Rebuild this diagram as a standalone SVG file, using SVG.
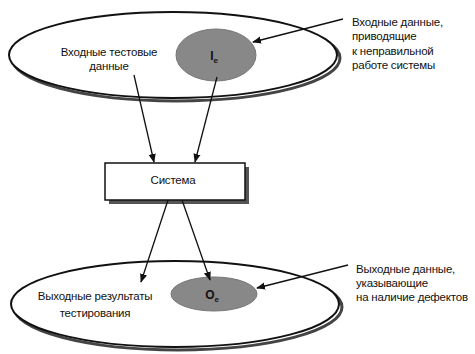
<svg xmlns="http://www.w3.org/2000/svg" width="475" height="354" viewBox="0 0 475 354">
<style>
text{font-family:"Liberation Sans",Arial,sans-serif;font-size:11.5px;letter-spacing:-0.2px;fill:#111}
.c{text-anchor:middle}
.set{fill:#fff;stroke:#111;stroke-width:2}
.shadow{fill:none;stroke:#444;stroke-width:3}
.blob{fill:#888;stroke:#777;stroke-width:1}
.ln{stroke:#111;stroke-width:1.3;fill:none;marker-end:url(#ah)}
.sym{font-weight:bold;font-size:12px}
</style>
<defs>
<marker id="ah" viewBox="0 0 10 10" refX="9" refY="5" markerWidth="9" markerHeight="9" markerUnits="userSpaceOnUse" orient="auto">
<path d="M0,1 L10,5 L0,9 z" fill="#111"/>
</marker>
</defs>
<rect width="475" height="354" fill="#fff"/>
<g id="inputs">
<ellipse class="shadow" cx="176" cy="58" rx="164" ry="43"/>
<ellipse class="set" cx="173" cy="55" rx="164" ry="43"/>
<ellipse class="blob" cx="216" cy="55" rx="40" ry="26"/>
<text x="214" y="60" class="c sym">I<tspan font-size="8" dy="3">e</tspan></text>
<text x="109" y="56" class="c">Входные тестовые</text>
<text x="109" y="70" class="c">данные</text>
</g>
<g id="system">
<rect x="109" y="167" width="140" height="37" fill="#555"/>
<rect x="105" y="163" width="140" height="37" fill="#fff" stroke="#111" stroke-width="1.5"/>
<text x="173" y="184" class="c" font-size="12.5px">Система</text>
</g>
<g id="outputs">
<ellipse class="shadow" cx="178" cy="307" rx="164" ry="43"/>
<ellipse class="set" cx="175" cy="304" rx="164" ry="43"/>
<ellipse class="blob" cx="214" cy="294" rx="43" ry="17"/>
<text x="212" y="299" class="c sym">O<tspan font-size="8" dy="3">e</tspan></text>
<text x="95" y="300" class="c">Выходные результаты</text>
<text x="95" y="317" class="c">тестирования</text>
</g>
<g id="label-in">
<text x="352" y="26">Входные данные,</text>
<text x="352" y="40">приводящие</text>
<text x="352" y="55">к неправильной</text>
<text x="352" y="69">работе системы</text>
</g>
<g id="label-out">
<text x="356" y="273">Выходные данные,</text>
<text x="356" y="287">указывающие</text>
<text x="356" y="301">на наличие дефектов</text>
</g>
<g id="connectors">
<line class="ln" x1="343" y1="19" x2="253" y2="42"/>
<line class="ln" x1="134" y1="75" x2="154" y2="162"/>
<line class="ln" x1="217" y1="77" x2="195" y2="162"/>
<line class="ln" x1="168" y1="200" x2="141" y2="282"/>
<line class="ln" x1="182" y1="200" x2="210" y2="280"/>
<line class="ln" x1="348" y1="265" x2="257" y2="288"/>
</g>
</svg>
